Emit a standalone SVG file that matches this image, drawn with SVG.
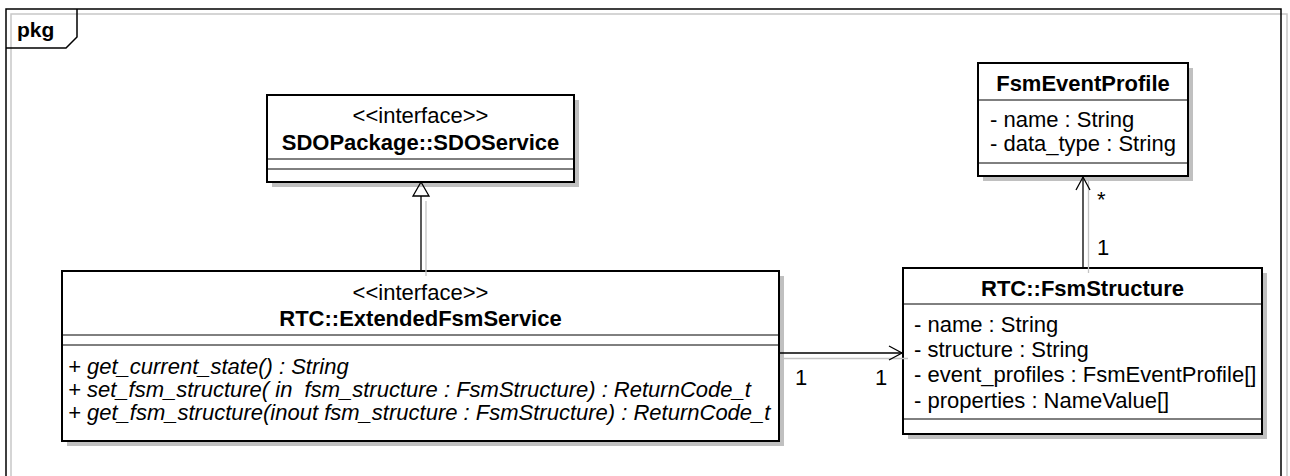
<svg xmlns="http://www.w3.org/2000/svg" width="1290" height="476" viewBox="0 0 1290 476">
<style>
text{font-family:"Liberation Sans",Arial,sans-serif;font-size:22px;fill:#000;white-space:pre}
.b{font-weight:bold}
.i{font-style:italic}
.m{text-anchor:middle}
.box{fill:#fff;stroke:#000;stroke-width:2}
.sh{fill:#c0c0c0;stroke:none}
.sep{stroke:#000;stroke-width:1}
.ln{fill:none;stroke:#000;stroke-width:1.3}
.lsh{fill:none;stroke:#c4c4c4;stroke-width:1.3}
</style>
<rect width="1290" height="476" fill="#fff"/>
<g id="frame">
<path d="M11,476 V14 H1287 V476" fill="none" stroke="#c8c8c8" stroke-width="1.5"/>
<path d="M6,476 V9 H1281 V476" fill="none" stroke="#000" stroke-width="1.5"/>
<path d="M6,48 H66 L77,37 V9" fill="none" stroke="#000" stroke-width="1.5"/>
<text class="b" x="17" y="37" style="font-size:21px">pkg</text>
</g>
<g id="SDOService">
<rect class="sh" x="272" y="100" width="307" height="87"/>
<rect class="box" x="267" y="95" width="307" height="87"/>
<text class="m" x="420.5" y="123">&lt;&lt;interface&gt;&gt;</text>
<text class="m b" x="420.5" y="150">SDOPackage::SDOService</text>
<line class="sep" x1="267" y1="159" x2="574" y2="159"/>
<line class="sep" x1="267" y1="169" x2="574" y2="169"/>
</g>
<g id="ExtendedFsmService">
<rect class="sh" x="67" y="276" width="717" height="170"/>
<rect class="box" x="62" y="271" width="717" height="170"/>
<text class="m" x="420.5" y="300">&lt;&lt;interface&gt;&gt;</text>
<text class="m b" x="420.5" y="326">RTC::ExtendedFsmService</text>
<line class="sep" x1="62" y1="335" x2="779" y2="335"/>
<line class="sep" x1="62" y1="345" x2="779" y2="345"/>
<text class="i" x="68" y="374">+ get_current_state() : String</text>
<text class="i" x="68" y="397" xml:space="preserve">+ set_fsm_structure( in  fsm_structure : FsmStructure) : ReturnCode_t</text>
<text class="i" x="68" y="420">+ get_fsm_structure(inout fsm_structure : FsmStructure) : ReturnCode_t</text>
</g>
<g id="FsmEventProfile">
<rect class="sh" x="983" y="68" width="210" height="113"/>
<rect class="box" x="978" y="63" width="210" height="113"/>
<text class="m b" x="1083" y="91">FsmEventProfile</text>
<line class="sep" x1="978" y1="100" x2="1188" y2="100"/>
<text x="990" y="127">- name : String</text>
<text x="990" y="151">- data_type : String</text>
<line class="sep" x1="978" y1="163" x2="1188" y2="163"/>
</g>
<g id="FsmStructure">
<rect class="sh" x="908" y="273" width="359" height="166"/>
<rect class="box" x="903" y="268" width="359" height="166"/>
<text class="m b" x="1082.5" y="296">RTC::FsmStructure</text>
<line class="sep" x1="903" y1="304" x2="1262" y2="304"/>
<text x="914" y="332">- name : String</text>
<text x="914" y="357">- structure : String</text>
<text x="914" y="382">- event_profiles : FsmEventProfile[]</text>
<text x="914" y="408">- properties : NameValue[]</text>
<line class="sep" x1="903" y1="419" x2="1262" y2="419"/>
</g>
<g id="connectors">
<line class="lsh" x1="426" y1="201" x2="426" y2="276"/>
<line class="ln" x1="421" y1="196" x2="421" y2="271"/>
<path class="ln" d="M421,182 L429,196 H413 Z" fill="#fff"/>
<line class="lsh" x1="784" y1="358.5" x2="908" y2="358.5"/>
<line class="ln" x1="779" y1="353" x2="902" y2="353"/>
<path class="ln" d="M889,346 L902,353 L889,360"/>
<text x="795" y="385">1</text>
<text x="875" y="385">1</text>
<line class="lsh" x1="1088.5" y1="181" x2="1088.5" y2="273"/>
<line class="ln" x1="1083" y1="177" x2="1083" y2="268"/>
<path class="ln" d="M1076,190 L1083,177 L1090,190"/>
<text x="1097" y="207">*</text>
<text x="1097" y="255">1</text>
</g>
</svg>
